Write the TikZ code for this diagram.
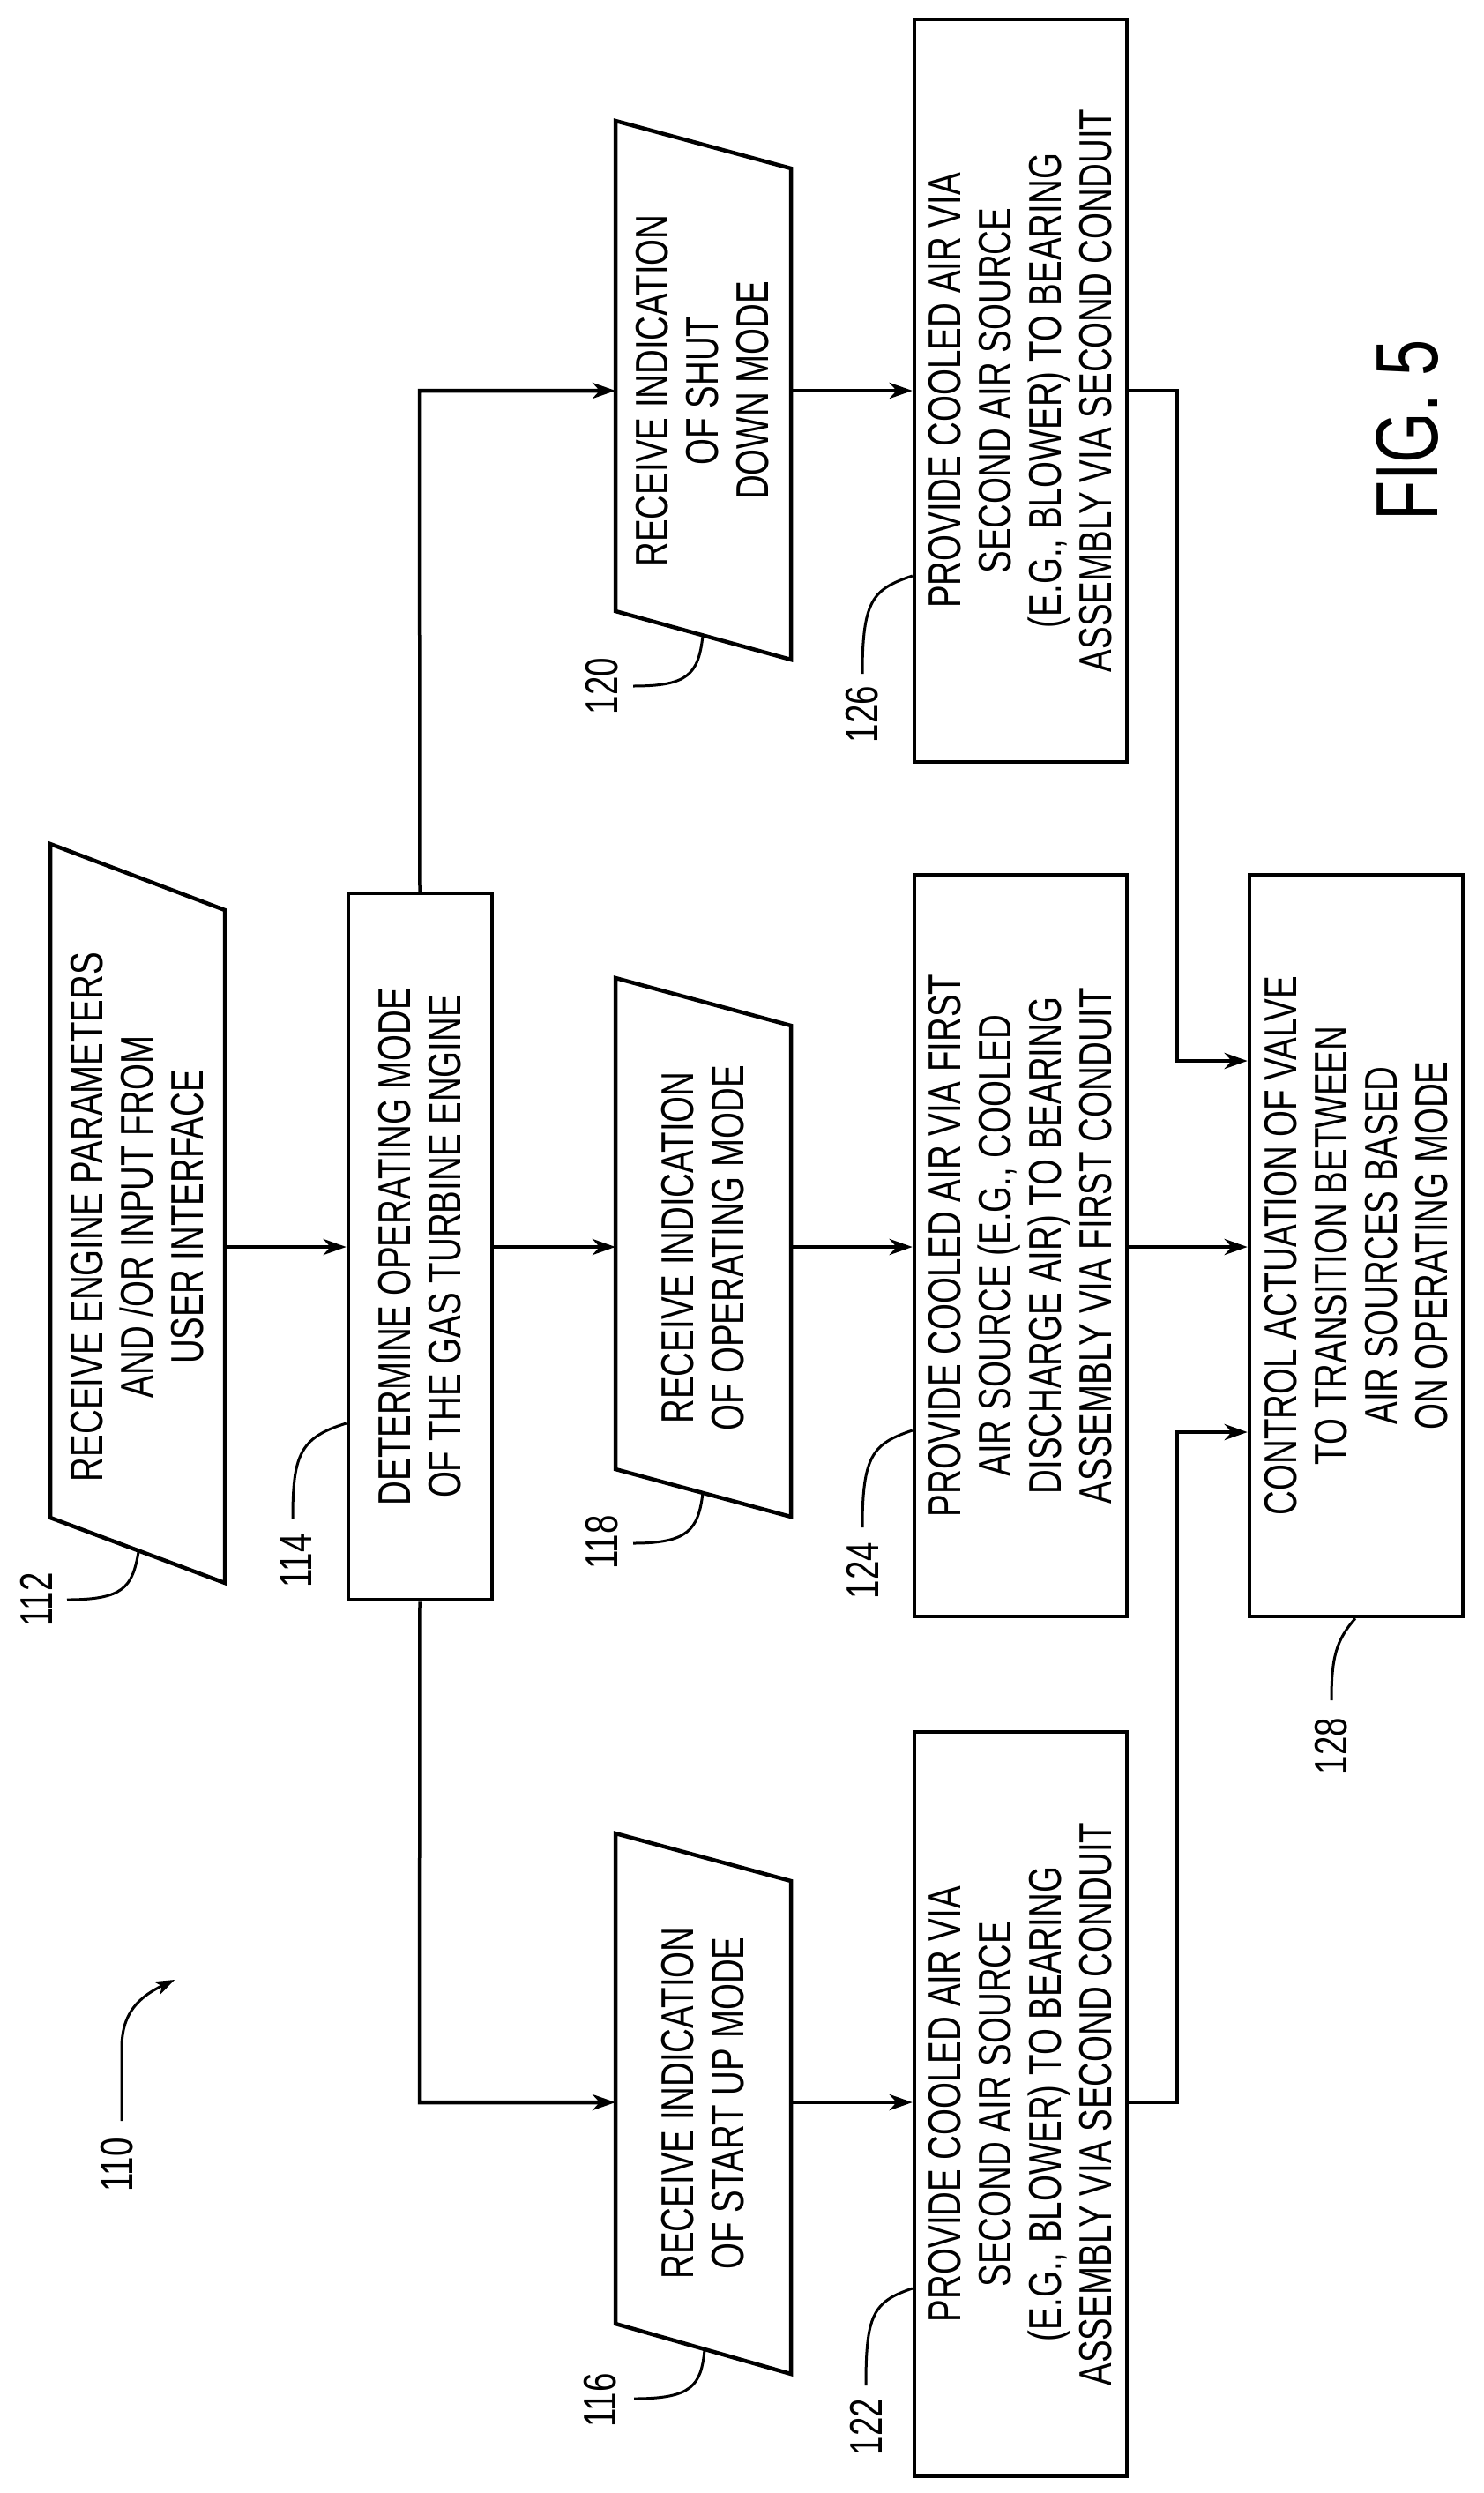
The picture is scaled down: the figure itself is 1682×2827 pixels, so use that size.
\documentclass[tikz,border=0pt]{standalone}
\usepackage{fontspec}
\setmainfont[FakeStretch=0.74]{Liberation Sans}
\usetikzlibrary{arrows.meta}
\begin{document}
\begin{tikzpicture}[x=1pt,y=-1pt,
  box/.style={draw,line width=4.5pt,minimum width=#1,inner sep=0pt},
  txt/.style={rotate=90,align=center,font=\fontsize{52}{57}\selectfont},
  shp/.style={draw,line width=4.5pt,line join=miter},
  conn/.style={line width=4.5pt,-{Stealth[length=26pt,width=18pt,inset=8pt]}},
  line/.style={line width=4.5pt},
  lead/.style={line width=3pt},
  lbl/.style={rotate=90,font=\fontsize{52}{57}\selectfont,inner sep=0pt}]
\path[use as bounding box] (0,0) rectangle (1682,2827);
% parallelograms
\draw[shp] (57,957)--(255,1032)--(255,1795)--(57,1721)--cycle;
\draw[shp] (698,137)--(897,191)--(897,748)--(698,693)--cycle;
\draw[shp] (698,1109)--(897,1163)--(897,1720)--(698,1666)--cycle;
\draw[shp] (698,2079)--(897,2133)--(897,2692)--(698,2635)--cycle;
\coordinate (p112e) at (255,1414);
\coordinate (p120w) at (698,443);\coordinate (p120e) at (897,443);
\coordinate (p118w) at (698,1414);\coordinate (p118e) at (897,1414);
\coordinate (p116w) at (698,2384);\coordinate (p116e) at (897,2384);
\node[txt] (t112) at (156,1380) {RECEIVE  ENGINE  PARAMETERS\\AND /OR  INPUT  FROM\\USER  INTERFACE};
\node[txt] (t120) at (797,443) {RECEIVE  INDICATION\\OF SHUT\\DOWN  MODE};
\node[txt] (t118) at (797,1415) {RECEIVE  INDICATION\\OF OPERATING  MODE};
\node[txt] (t116) at (797,2385) {RECEIVE  INDICATION\\OF  START  UP  MODE};
% rectangles
\node[box=163,minimum height=801] (b114) at (476.5,1413.5) {};
\node[box=241,minimum height=842] (b126) at (1157.5,443) {};
\node[box=241,minimum height=841] (b124) at (1157.5,1412.5) {};
\node[box=241,minimum height=844] (b122) at (1157.5,2386) {};
\node[box=242,minimum height=841] (b128) at (1538,1412.5) {};
\node[txt] (t114) at (476.5,1413.5) {DETERMINE  OPERATING  MODE\\OF THE GAS  TURBINE  ENGINE};
\node[txt] (t126) at (1157.5,443) {PROVIDE  COOLED  AIR  VIA\\SECOND  AIR  SOURCE\\(E.G.,  BLOWER) TO  BEARING\\ASSEMBLY VIA  SECOND  CONDUIT};
\node[txt] (t124) at (1157.5,1412.5) {PROVIDE  COOLED  AIR  VIA  FIRST\\AIR  SOURCE  (E.G.,  COOLED\\DISCHARGE  AIR) TO  BEARING\\ASSEMBLY VIA  FIRST  CONDUIT};
\node[txt] (t122) at (1157.5,2386) {PROVIDE  COOLED  AIR  VIA\\SECOND  AIR  SOURCE\\(E.G.,  BLOWER) TO  BEARING\\ASSEMBLY VIA  SECOND  CONDUIT};
\node[txt] (t128) at (1538,1412.5) {CONTROL  ACTUATION  OF  VALVE\\TO  TRANSITION  BETWEEN\\AIR  SOURCES  BASED\\ON  OPERATING  MODE};
\node[rotate=90,font=\fontsize{100}{110}\selectfont] (fig) at (1596,488) {FIG. 5};
% connectors
\draw[conn] (p112e) -- (b114.west|-p112e);
\draw[conn] (b114.east|-p118w) -- (p118w);
\draw[conn] (p118e) -- (b124.west|-p118e);
\draw[conn] (b124.east|-p118e) -- (b128.west|-p118e);
\draw[conn] (b114.north) -- (476,443) -- (p120w);
\draw[conn] (b114.south) -- (476,2384) -- (p116w);
\draw[conn] (p120e) -- (b126.west|-p120e);
\draw[conn] (p116e) -- (b122.west|-p116e);
\draw[conn] (b126.east|-p120e) -- (1335,443) -- (1335,1203) -- (b128.west|-{(0,1203)});
\draw[conn] (b122.east|-p116e) -- (1335,2384) -- (1335,1624) -- (b128.west|-{(0,1624)});
% reference labels
\node[lbl] (n112) at (41,1814) {112};
\draw[lead] (157,1760) .. controls (150,1800) and (140,1814) .. (76,1814);
\node[lbl] (n114) at (336,1770) {114};
\draw[lead] (b114.west|-{(0,1614)}) .. controls (340,1630) and (332,1650) .. (332,1722);
\node[lbl] (n118) at (683,1749) {118};
\draw[lead] (797,1693) .. controls (792,1735) and (780,1750) .. (718,1750);
\node[lbl] (n120) at (683,778) {120};
\draw[lead] (797,721) .. controls (792,765) and (780,778) .. (718,778);
\node[lbl] (n116) at (681,2722) {116};
\draw[lead] (799,2665) .. controls (795,2705) and (785,2720) .. (719,2720);
\node[lbl] (n126) at (978,810) {126};
\draw[lead] (b126.west|-{(0,653)}) .. controls (990,668) and (978,680) .. (978,764);
\node[lbl] (n124) at (978,1781) {124};
\draw[lead] (b124.west|-{(0,1622)}) .. controls (990,1637) and (978,1650) .. (978,1732);
\node[lbl] (n122) at (982,2752) {122};
\draw[lead] (b122.west|-{(0,2595)}) .. controls (990,2610) and (982,2625) .. (982,2705);
\node[lbl] (n128) at (1510,1980) {128};
\draw[lead] (b128.south-|{(1537,0)}) .. controls (1515,1860) and (1510,1880) .. (1510,1928);
\node[lbl] (n110) at (133,2455) {110};
\draw[lead,-{Stealth[length=22pt,width=16pt,inset=6pt]}] (138,2405) -- (138,2323) .. controls (138,2290) and (150,2268) .. (198,2245);
\end{tikzpicture}
\end{document}
